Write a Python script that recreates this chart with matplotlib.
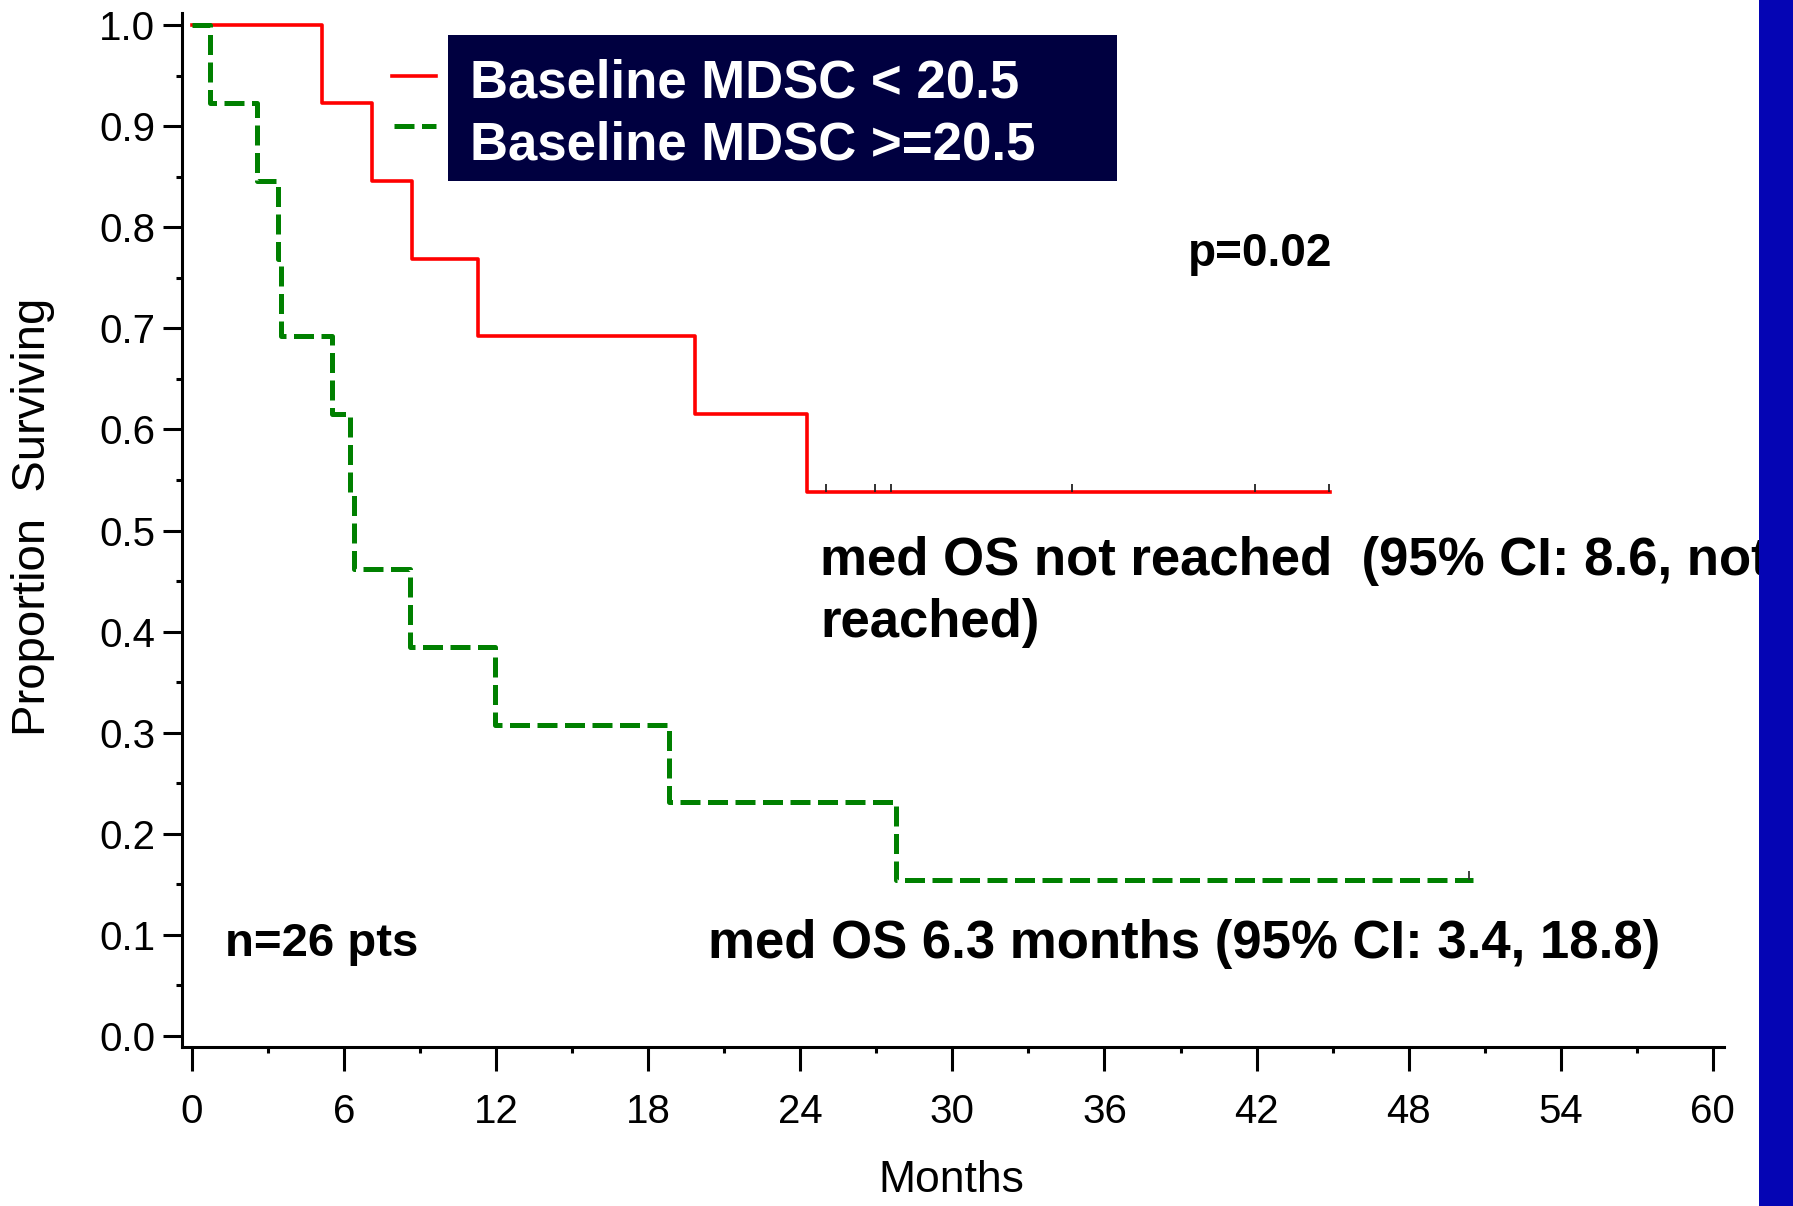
import matplotlib
matplotlib.use("Agg")
from matplotlib import pyplot as plt
from matplotlib.patches import Rectangle
from matplotlib.lines import Line2D
from matplotlib.ticker import MultipleLocator, FormatStrFormatter

# Kaplan-Meier steps (months, proportion surviving)
low_times = [0, 5.14, 7.1, 8.68, 11.29, 19.86, 24.28]
low_surv = [1.0, 0.923, 0.846, 0.769, 0.692, 0.615, 0.538]
low_end = 44.9
low_censor = [25.02, 26.93, 27.58, 34.71, 41.93, 44.86]

high_times = [0, 0.72, 2.57, 3.40, 3.52, 5.53, 6.24, 6.40, 8.61, 11.96, 18.83, 27.76]
high_surv = [1.0, 0.923, 0.846, 0.769, 0.692, 0.615, 0.538, 0.462, 0.385, 0.308, 0.231, 0.154]
high_end = 50.54
high_censor = [50.38]

legend_labels = ["Baseline MDSC < 20.5", "Baseline MDSC >=20.5"]
x_ticks = list(range(0, 61, 6))

W, H = 1793, 1206
fx = lambda x: x / W
fy = lambda y: 1 - y / H

plt.rcParams["font.family"] = ["Liberation Sans", "DejaVu Sans"]

fig = plt.figure(figsize=(W / 100, H / 100), dpi=100)
ax = fig.add_axes([fx(182), fy(1047), fx(1724) - fx(182), fy(13) - fy(1047)])

# step curves, last level carried out to the end of follow-up
ax.step(low_times + [low_end], low_surv + [low_surv[-1]], where="post",
        color="#ff0000", lw=2.6, zorder=3)
ax.step(high_times + [high_end], high_surv + [high_surv[-1]], where="post",
        color="#008000", lw=3.6, dashes=(4.0, 1.5), dash_capstyle="butt", zorder=4)

# censor ticks
ax.plot(low_censor, [low_surv[-1]] * len(low_censor), ls="none", marker=2,
        ms=5.5, mew=1.3, color="#222222", zorder=5)
ax.plot(high_censor, [high_surv[-1]] * len(high_censor), ls="none", marker=2,
        ms=6.5, mew=1.3, color="#333333", zorder=5)

ax.set_xlim(-0.39, 60.44)
ax.set_ylim(-0.0109, 1.0119)
ax.set_xticks(x_ticks)
ax.xaxis.set_minor_locator(MultipleLocator(3))
ax.yaxis.set_major_locator(MultipleLocator(0.1))
ax.yaxis.set_minor_locator(MultipleLocator(0.05))
ax.yaxis.set_major_formatter(FormatStrFormatter("%.1f"))

for s in ["top", "right"]:
    ax.spines[s].set_visible(False)
for s in ["left", "bottom"]:
    ax.spines[s].set_linewidth(2.2)

ax.tick_params(axis="x", which="major", length=17.3, width=2.2, pad=16, labelsize=29)
ax.tick_params(axis="x", which="minor", length=4.3, width=2.2)
ax.tick_params(axis="y", which="major", length=13.7, width=2.2, pad=5.5, labelsize=29)
ax.tick_params(axis="y", which="minor", length=4.3, width=2.2)

ax.set_xlabel("Months", fontsize=32)
ax.xaxis.set_label_coords(0.4987, -0.109)
ax.set_ylabel("Proportion  Surviving", fontsize=34)
ax.yaxis.set_label_coords(-0.0824, 0.513)

# legend drawn by hand: handles sit left of the navy box
fig.add_artist(Rectangle((fx(448), fy(181)), fx(1117) - fx(448), fy(35) - fy(181),
                         transform=fig.transFigure, facecolor="#000040",
                         edgecolor="none", zorder=6))
fig.add_artist(Line2D([fx(392), fx(436)], [fy(76), fy(76)], transform=fig.transFigure,
                      color="#ff0000", lw=2.6, zorder=6))
fig.add_artist(Line2D([fx(394), fx(436)], [fy(126), fy(126)], transform=fig.transFigure,
                      color="#008000", lw=3.6, dashes=(4.0, 1.5), zorder=6))
fig.text(fx(470), fy(97), legend_labels[0], color="white", fontsize=38,
         fontweight="bold", va="baseline", zorder=7)
fig.text(fx(470), fy(160), legend_labels[1], color="white", fontsize=38,
         fontweight="bold", va="baseline", zorder=7)

# annotations
fig.text(fx(1188), fy(266), "p=0.02", fontsize=33, fontweight="bold", va="baseline")
fig.text(fx(820), fy(575), "med OS not reached  (95% CI: 8.6, not", fontsize=38,
         fontweight="bold", va="baseline")
fig.text(fx(820), fy(637), "reached)", fontsize=38, fontweight="bold", va="baseline")
fig.text(fx(708), fy(958), "med OS 6.3 months (95% CI: 3.4, 18.8)", fontsize=38,
         fontweight="bold", va="baseline")
fig.text(fx(225), fy(956), "n=26 pts", fontsize=34, fontweight="bold", va="baseline")

# slide's blue strip on the right, covers the end of the text
fig.add_artist(Rectangle((fx(1759), 0), 1 - fx(1759), 1, transform=fig.transFigure,
                         facecolor="#0505b4", edgecolor="none", zorder=20))

plt.savefig("out.png", dpi=100)
